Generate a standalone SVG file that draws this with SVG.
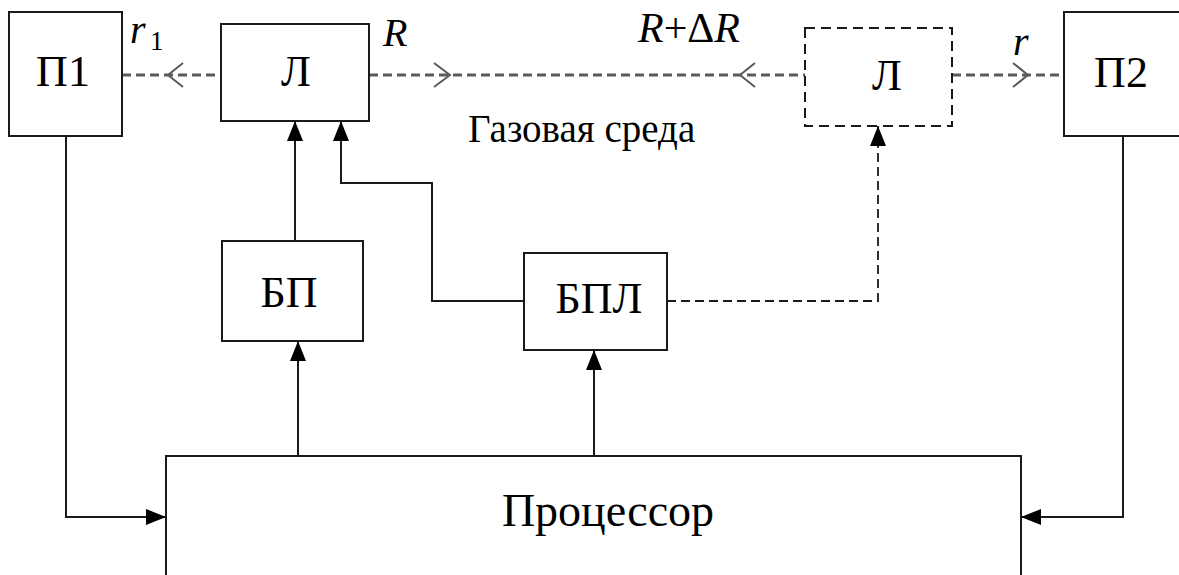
<svg xmlns="http://www.w3.org/2000/svg" width="1179" height="575" viewBox="0 0 1179 575">
<defs>
<marker id="arr" viewBox="0 0 20 16" refX="20" refY="8" markerWidth="20" markerHeight="16" markerUnits="userSpaceOnUse" orient="auto">
<path d="M0,0 L20,8 L0,16 Z" fill="#000"/>
</marker>
</defs>
<style>
.box{fill:#fff;stroke:#1a1a1a;stroke-width:2}
.dbox{fill:#fff;stroke:#1a1a1a;stroke-width:2;stroke-dasharray:10 6}
.ln{fill:none;stroke:#1a1a1a;stroke-width:2}
.dln{fill:none;stroke:#1a1a1a;stroke-width:1.8;stroke-dasharray:9 5}
.gd{fill:none;stroke:#5a5a5a;stroke-width:3;stroke-dasharray:9 5}
.chev{fill:none;stroke:#5a5a5a;stroke-width:2}
text{font-family:'Liberation Serif','Times New Roman',serif;fill:#000}
.i{font-style:italic}
</style>
<rect width="1179" height="575" fill="#fff"/>
<g id="connectors">
<path class="gd" d="M122,75 H221"/>
<path class="chev" d="M183,63 L168,75 L183,87"/>
<path class="gd" d="M369,75 H805"/>
<path class="chev" d="M434,63 L450,75 L434,87"/>
<path class="chev" d="M755,63 L740,75 L755,87"/>
<path class="gd" d="M952,75 H1064"/>
<path class="chev" d="M1013,63 L1028,75 L1013,87"/>
<path class="ln" d="M66,136 V517 H166" marker-end="url(#arr)"/>
<path class="ln" d="M1123,136 V517 H1021" marker-end="url(#arr)"/>
<path class="ln" d="M295,241 V121" marker-end="url(#arr)"/>
<path class="ln" d="M524,301 H432 V183 H341 V121" marker-end="url(#arr)"/>
<path class="dln" d="M667,301 H878 V126" marker-end="url(#arr)"/>
<path class="ln" d="M298,456 V341" marker-end="url(#arr)"/>
<path class="ln" d="M594,456 V350" marker-end="url(#arr)"/>
</g>
<g id="p1">
<rect class="box" x="9" y="12" width="113" height="124"/>
<text x="63" y="86" font-size="44" text-anchor="middle">П1</text>
</g>
<g id="l1">
<rect class="box" x="221" y="24" width="148" height="97"/>
<text x="296" y="86" font-size="44" text-anchor="middle">Л</text>
</g>
<g id="l2">
<rect class="dbox" x="805" y="28" width="147" height="98"/>
<text x="887" y="90" font-size="44" text-anchor="middle">Л</text>
</g>
<g id="p2">
<rect class="box" x="1064" y="12" width="140" height="124"/>
<text x="1121" y="87" font-size="44" text-anchor="middle">П2</text>
</g>
<g id="bp">
<rect class="box" x="222" y="241" width="141" height="100"/>
<text x="289" y="307" font-size="44" text-anchor="middle">БП</text>
</g>
<g id="bpl">
<rect class="box" x="524" y="253" width="143" height="97"/>
<text x="599" y="313" font-size="44" text-anchor="middle">БПЛ</text>
</g>
<g id="proc">
<rect class="box" x="166" y="456" width="855" height="140"/>
<text x="608" y="526" font-size="46" text-anchor="middle">Процессор</text>
</g>
<g id="labels">
<text class="i" x="130" y="43" font-size="40">r</text>
<text x="150" y="50" font-size="27">1</text>
<text class="i" x="383" y="46" font-size="40">R</text>
<text x="638" y="42" font-size="42"><tspan class="i">R</tspan>+Δ<tspan class="i">R</tspan></text>
<text class="i" x="1013" y="55" font-size="40">r</text>
<text x="468" y="142" font-size="39">Газовая среда</text>
</g>
</svg>
